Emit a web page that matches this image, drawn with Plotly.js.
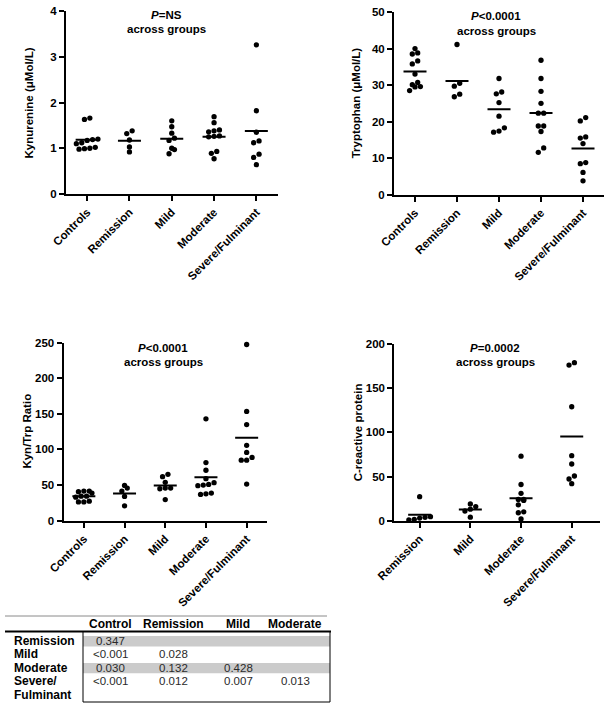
<!DOCTYPE html>
<html>
<head>
<meta charset="utf-8">
<script src="https://cdn.plot.ly/plotly-3.0.1.min.js"></script>
<style>html,body{margin:0;padding:0;background:#fff;}#chart{width:612px;height:709px;}</style>
</head>
<body>
<div id="chart"></div>
<script>
// ---------------- DATA ----------------
const groupsAll = ['Controls','Remission','Mild','Moderate','Severe/Fulminant'];
const groupsCrp = ['Remission','Mild','Moderate','Severe/Fulminant'];

const kynurenine = [
  [1.63,1.66,1.20,1.19,1.17,1.12,1.10,1.02,1.00,0.99,0.98],
  [1.38,1.32,1.18,1.03,0.92],
  [1.60,1.47,1.33,1.22,1.17,1.00,0.97,0.88],
  [1.69,1.56,1.40,1.38,1.36,1.27,1.26,1.25,0.93,0.89,0.77],
  [3.26,1.82,1.35,1.16,1.12,0.87,0.80,0.64]
];
const tryptophan = [
  [40.0,38.5,38.8,36.6,35.8,33.0,30.7,29.6,30.1,29.5,28.5],
  [41.1,30.5,29.7,26.8,27.5],
  [31.8,28.1,27.6,25.2,21.5,18.3,17.1,17.4],
  [36.8,31.8,28.3,25.0,22.3,22.3,18.8,18.8,17.3,12.8,11.6],
  [21.1,20.2,15.5,15.8,14.0,8.5,8.8,6.1,3.8]
];
const kynTrpRatio = [
  [41.5,41.5,40.6,38.7,34.4,34.4,33.0,27.4,26.4,26.4],
  [49.5,45.8,41.5,34.0,20.8],
  [65.1,61.8,53.8,45.8,44.8,45.8,29.7],
  [142.9,81.6,70.8,59.0,53.3,49.1,50.0,50.9,37.7,36.8,38.7],
  [247.2,153.3,134.9,105.7,95.8,84.9,84.9,88.7,51.4]
];
const crp = [
  [27.2,4.5,3.0,0.8,1.5,3.8],
  [19,16,13,11,4],
  [73,41,31,24,24,23,18,10,9,2],
  [178.9,176.2,129,73.6,64.2,50.6,47.2,41.9]
];
const pLabels = ['<i>P</i>=NS','<i>P</i><0.0001','<i>P</i><0.0001','<i>P</i>=0.0002'];
const yTitles = ['Kynurenine (μMol/L)','Tryptophan (μMol/L)','Kyn/Trp Ratio','C-reactive protein'];

const tableCols = ['Control','Remission','Mild','Moderate'];
const tableRows = [['Remission'],['Mild'],['Moderate'],['Severe/','Fulminant']];
const tableP = [
  ['0.347','','',''],
  ['<0.001','0.028','',''],
  ['0.030','0.132','0.428',''],
  ['<0.001','0.012','0.007','0.013']
];

// ---------------- LAYOUT GEOMETRY ----------------
const W = 612, H = 709;
const px = x => x / W;
const py = y => 1 - y / H;
const FONT = 'Liberation Sans, Arial, sans-serif';

const panels = [
  {cats: groupsAll, vals: kynurenine, xpx:[66,277.5], ypx:[194,11], xr:[-0.5,4.5], yr:[0,4], dtick:1,
   annX:167, annY:[15,29], titleX:28},
  {cats: groupsAll, vals: tryptophan, xpx:[394,604], ypx:[194.7,12], xr:[-0.5,4.5], yr:[0,50], dtick:10,
   annX:496, annY:[16,31], titleX:356},
  {cats: groupsAll, vals: kynTrpRatio, xpx:[63.5,267], ypx:[520.7,342.5], xr:[-0.5,4.5], yr:[0,250], dtick:50,
   annX:163, annY:[348,362], titleX:27},
  {cats: groupsCrp, vals: crp, xpx:[394.3,599.6], ypx:[520.7,344], xr:[-0.5,3.55], yr:[0,200], dtick:50,
   annX:495, annY:[348,362], titleX:358}
];

// simple centered-row dot layout (GraphPad style) computed from values
function swarm(vals, pxPerUnit, pxPerCat, d) {
  const idx = vals.map((v,i)=>i).sort((a,b)=>vals[a]-vals[b]);
  const offs = new Array(vals.length).fill(0);
  let row = [];
  const flush = () => {
    const m = row.length;
    row.forEach((k,j)=>{ offs[k] = ((j-(m-1)/2)*d)/pxPerCat; });
    row = [];
  };
  let start = null;
  idx.forEach(k => {
    if (start === null || (vals[k]-start)*pxPerUnit > 4.6) { flush(); start = vals[k]; }
    row.push(k);
  });
  flush();
  return offs;
}

const traces = [];
const layout = {
  width: W, height: H, margin:{l:0,r:0,t:0,b:0},
  paper_bgcolor:'#fff', plot_bgcolor:'rgba(0,0,0,0)', showlegend:false,
  font:{family:FONT, color:'#000'},
  annotations: [], shapes: []
};

const tickFont = {family:FONT, size:11.5, weight:'bold', color:'#000'};

panels.forEach((p, i) => {
  const sfx = i === 0 ? '' : String(i+1);
  const pxPerUnit = (p.ypx[0]-p.ypx[1])/(p.yr[1]-p.yr[0]);
  const pxPerCat = (p.xpx[1]-p.xpx[0])/(p.xr[1]-p.xr[0]);
  const hw = 11.5 / pxPerCat;
  const xs = [], ys = [], lx = [], ly = [];
  p.vals.forEach((g, ci) => {
    const offs = swarm(g, pxPerUnit, pxPerCat, 5.4);
    g.forEach((v, k) => { xs.push(ci + offs[k]); ys.push(v); });
    const mean = g.reduce((a,b)=>a+b,0)/g.length;
    lx.push(ci-hw, ci+hw, null); ly.push(mean, mean, null);
  });
  traces.push({type:'scatter', mode:'markers', x:xs, y:ys, xaxis:'x'+sfx, yaxis:'y'+sfx,
    marker:{color:'#000', size:5.3}, cliponaxis:false, hoverinfo:'skip'});
  traces.push({type:'scatter', mode:'lines', x:lx, y:ly, xaxis:'x'+sfx, yaxis:'y'+sfx,
    line:{color:'#000', width:2}, cliponaxis:false, hoverinfo:'skip'});

  layout['xaxis'+sfx] = {
    domain:[px(p.xpx[0]), px(p.xpx[1])], range:p.xr, anchor:'y'+sfx,
    tickmode:'array', tickvals:p.cats.map((c,k)=>k), ticktext:p.cats, tickangle:-45,
    ticks:'outside', ticklen:5, tickwidth:2, tickcolor:'#000',
    showline:true, linewidth:2, linecolor:'#000', showgrid:false, zeroline:false,
    tickfont:tickFont, fixedrange:true
  };
  layout['yaxis'+sfx] = {
    domain:[py(p.ypx[0]), py(p.ypx[1])], range:p.yr, anchor:'x'+sfx,
    tickmode:'linear', tick0:0, dtick:p.dtick,
    ticks:'outside', ticklen:5, tickwidth:2, tickcolor:'#000',
    showline:true, linewidth:2, linecolor:'#000', showgrid:false, zeroline:false,
    tickfont:tickFont, fixedrange:true
  };
  layout.annotations.push(
    {xref:'paper', yref:'paper', x:px(p.annX), y:py(p.annY[0]), text:pLabels[i], showarrow:false,
     xanchor:'center', yanchor:'middle', font:{family:FONT, size:11.5, weight:'bold', color:'#000'}},
    {xref:'paper', yref:'paper', x:px(p.annX), y:py(p.annY[1]), text:'across groups', showarrow:false,
     xanchor:'center', yanchor:'middle', font:{family:FONT, size:11.5, weight:'bold', color:'#000'}},
    {xref:'paper', yref:'paper', x:px(p.titleX), y:py((p.ypx[0]+p.ypx[1])/2), text:yTitles[i], showarrow:false,
     textangle:-90, xanchor:'center', yanchor:'middle', font:{family:FONT, size:11.5, weight:'bold', color:'#000'}}
  );
});

// ---------------- TABLE ----------------
const tL = 83, tR = 330;
const rowShade = [[636,646.5],[663,673.3]];
rowShade.forEach(r => layout.shapes.push({type:'rect', xref:'paper', yref:'paper',
  x0:px(tL), x1:px(tR), y0:py(r[1]), y1:py(r[0]), fillcolor:'#cbcbcb', line:{width:0}, layer:'below'}));
layout.shapes.push(
  {type:'line', xref:'paper', yref:'paper', x0:px(5), x1:px(327), y0:py(616), y1:py(616), line:{color:'#8a8a8a', width:1}},
  {type:'line', xref:'paper', yref:'paper', x0:px(5), x1:px(331), y0:py(631.5), y1:py(631.5), line:{color:'#000', width:2.2}},
  {type:'line', xref:'paper', yref:'paper', x0:px(tL), x1:px(tL), y0:py(631.5), y1:py(702), line:{color:'#000', width:1}},
  {type:'line', xref:'paper', yref:'paper', x0:px(tR), x1:px(tR), y0:py(631.5), y1:py(702), line:{color:'#000', width:1}},
  {type:'line', xref:'paper', yref:'paper', x0:px(tL), x1:px(tR), y0:py(702), y1:py(702), line:{color:'#000', width:1}}
);
const colX = [110.5, 173.5, 238, 295];
const rowY = [641, 654.3, 667.7, 681];
tableCols.forEach((c, j) => layout.annotations.push({xref:'paper', yref:'paper', x:px(colX[j]), y:py(624.3),
  text:c, showarrow:false, xanchor:'center', yanchor:'middle', font:{family:FONT, size:12, weight:'bold', color:'#000'}}));
tableRows.forEach((r, k) => r.forEach((line, li) => layout.annotations.push({xref:'paper', yref:'paper',
  x:px(11.5), y:py(rowY[k] + li*14), text:line, showarrow:false, xanchor:'left', yanchor:'middle',
  font:{family:FONT, size:12, weight:'bold', color:'#000'}})));
tableP.forEach((row, k) => row.forEach((v, j) => { if (v) layout.annotations.push({xref:'paper', yref:'paper',
  x:px(colX[j]), y:py(rowY[k]), text:v, showarrow:false, xanchor:'center', yanchor:'middle',
  font:{family:FONT, size:11.5, color:'#2a2a2a'}}); }));

Plotly.newPlot('chart', traces, layout, {staticPlot:true, displayModeBar:false});
</script>
</body>
</html>
